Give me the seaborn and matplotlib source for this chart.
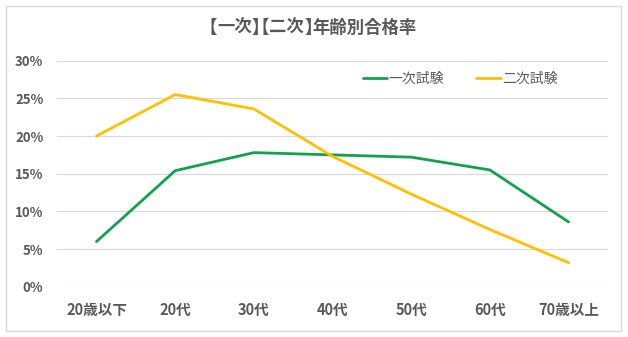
import matplotlib
matplotlib.use("Agg")
import matplotlib.pyplot as plt
import seaborn as sns
import pandas as pd
from matplotlib.patches import Rectangle
from matplotlib.ticker import FuncFormatter

categories = ["20歳以下", "20代", "30代", "40代", "50代", "60代", "70歳以上"]
first_exam = [6.0, 15.4, 17.8, 17.5, 17.2, 15.5, 8.6]
second_exam = [20.0, 25.5, 23.6, 17.3, 12.3, 7.6, 3.2]
series_names = ["一次試験", "二次試験"]
title_pieces = ["【", "一次", "】", "【", "二次", "】", "年齢別合格率"]

sns.set_theme(style="white")
plt.rcParams['font.family'] = ['Noto Sans CJK JP', 'DejaVu Sans']

df = pd.DataFrame({
    "cat": list(range(len(categories))) * 2,
    "val": first_exam + second_exam,
    "series": [series_names[0]] * len(categories) + [series_names[1]] * len(categories),
})

W, H = 628, 337
fig = plt.figure(figsize=(W / 100, H / 100), dpi=100)
fig.patch.set_facecolor("white")
fig.add_artist(Rectangle((0.009, 0.018), 0.98, 0.965, transform=fig.transFigure,
                         fill=False, edgecolor="#d9d9d9", linewidth=1.0))
ax = fig.add_axes([0.091, 0.149, 0.877, 0.671])

palette = {series_names[0]: "#12A24E", series_names[1]: "#FFC000"}
sns.lineplot(data=df, x="cat", y="val", hue="series", palette=palette,
             linewidth=2.0, ax=ax, legend=True)

ax.set_xlim(-0.5, len(categories) - 0.5)
ax.set_ylim(0, 30)
ax.set_yticks([0, 5, 10, 15, 20, 25, 30])
ax.yaxis.set_major_formatter(FuncFormatter(lambda v, p: f"{int(v)}%"))
ax.set_xticks(range(len(categories)))
ax.set_xticklabels(categories)
ax.set_xlabel("")
ax.set_ylabel("")
ax.grid(axis="y", color="#d9d9d9", linewidth=0.8)
ax.set_axisbelow(True)
for s in ax.spines.values():
    s.set_visible(False)
ax.tick_params(axis="both", length=0, colors="#595959")
ax.tick_params(axis="x", pad=11, labelsize=10.5)
ax.tick_params(axis="y", pad=10, labelsize=9.5)
for lbl in ax.get_xticklabels() + ax.get_yticklabels():
    lbl.set_fontweight("bold")
    lbl.set_color("#595959")

handles, labels = ax.get_legend_handles_labels()
ax.legend(handles, labels, loc="center", bbox_to_anchor=(0.733, 0.766),
          bbox_transform=fig.transFigure, ncol=2, frameon=False,
          fontsize=10, handlelength=1.75, handletextpad=0.1, columnspacing=2.3,
          labelcolor="#595959")

# Title drawn in pieces so the full-width brackets take half-width spacing
tsize = 12.5
em = tsize * 100 / 72.0
renderer = fig.canvas.get_renderer()
texts = []
widths = []
for p in title_pieces:
    t = fig.text(0, 0.917, p, ha="left", va="center", fontsize=tsize,
                 fontweight="bold", color="#595959")
    texts.append(t)
    widths.append(t.get_window_extent(renderer).width)
adv = []
shift = []
for p, w in zip(title_pieces, widths):
    if p == "【":
        adv.append(w - 0.5 * em)
        shift.append(-0.5 * em)
    elif p == "】":
        adv.append(w - 0.5 * em)
        shift.append(0.0)
    else:
        adv.append(w)
        shift.append(0.0)
total = sum(adv)
x = 0.498 * W - total / 2
for t, a, s in zip(texts, adv, shift):
    t.set_x((x + s) / W)
    x += a

fig.savefig("out.png", dpi=100)
